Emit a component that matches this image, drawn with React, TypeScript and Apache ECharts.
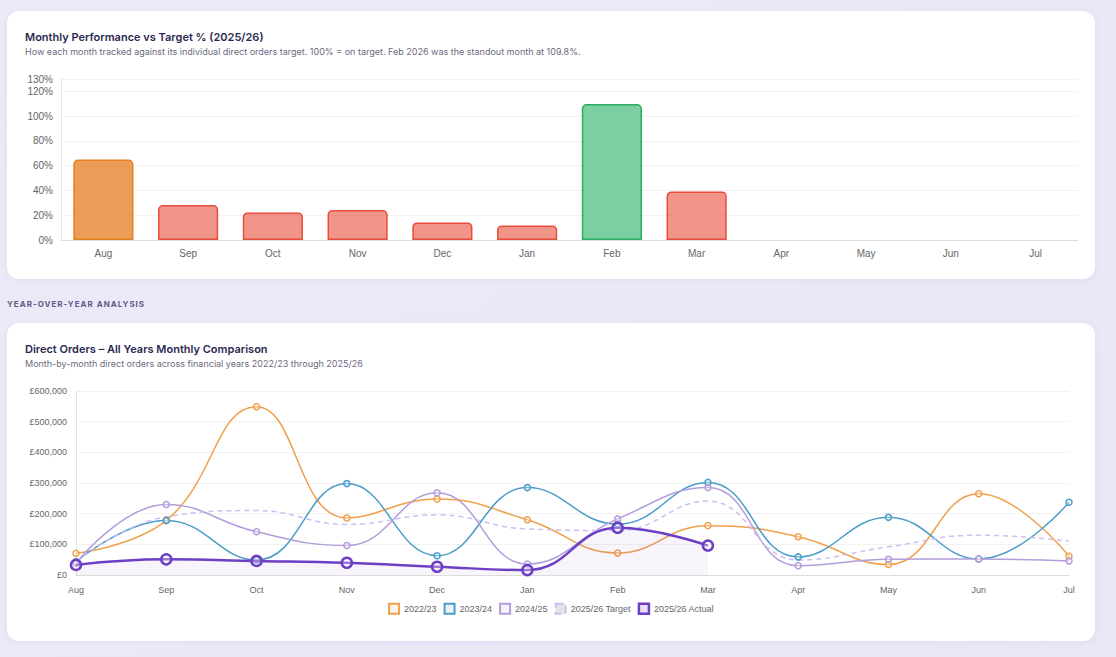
import React, { useEffect, useRef } from "react";
import * as echarts from "echarts";

const months = ["Aug", "Sep", "Oct", "Nov", "Dec", "Jan", "Feb", "Mar", "Apr", "May", "Jun", "Jul"];
const perfPct: (number | null)[] = [65.0, 28.2, 22.3, 24.2, 14.2, 11.8, 109.8, 39.2, null, null, null, null];

const fy2223 = [71000, 178000, 549000, 186000, 248000, 180000, 72000, 161000, 125000, 34000, 265000, 61000];
const fy2324 = [43000, 178000, 49000, 298000, 63000, 285000, 166000, 302000, 59000, 188000, 52000, 237000];
const fy2425 = [38000, 230000, 141000, 96000, 268000, 36000, 183000, 285000, 30000, 51000, 52000, 46000];
const target2526 = [45000, 190000, 210000, 165000, 196000, 150000, 145000, 241000, 49000, 92000, 130000, 110000];
const actual2526: (number | null)[] = [33000, 51000, 46000, 40000, 27000, 16000, 154000, 96000, null, null, null, null];

const seriesNames = ["2022/23", "2023/24", "2024/25", "2025/26 Target", "2025/26 Actual"];

const AXIS_FONT = "'Liberation Sans', Arial, Helvetica, sans-serif";
const TITLE_FONT = "Inter, 'Noto Sans', sans-serif";

function barStyle(v: number | null) {
  if (v == null) return {};
  if (v >= 100) return { color: "rgba(39,174,96,0.6)", borderColor: "#27ae60" };
  if (v >= 50) return { color: "rgba(230,126,34,0.75)", borderColor: "#e67e22" };
  return { color: "rgba(231,76,60,0.6)", borderColor: "#e74c3c" };
}

function PerfChart() {
  const ref = useRef<HTMLDivElement>(null);
  useEffect(() => {
    const chart = echarts.init(ref.current!, undefined, { renderer: "svg" });
    chart.setOption({
      animation: false,
      grid: { left: 54, right: 17, top: 68, bottom: 39, containLabel: false },
      xAxis: {
        type: "category",
        data: months,
        axisLine: { show: true, lineStyle: { color: "#dcdcdc" } },
        axisTick: { show: false },
        axisLabel: { color: "#666", fontSize: 10, fontFamily: AXIS_FONT, margin: 8 },
      },
      yAxis: {
        type: "value",
        min: 0,
        max: 130,
        interval: 20,
        axisLine: { show: true, lineStyle: { color: "#e4e4e4" } },
        axisTick: { show: false },
        axisLabel: { color: "#666", fontSize: 10, fontFamily: AXIS_FONT, margin: 8, formatter: (v: number) => v + "%" },
        splitLine: { lineStyle: { color: "#f2f2f2" } },
      },
      series: [
        {
          type: "bar",
          barCategoryGap: "29%",
          data: perfPct.map((v) => ({
            value: v,
            itemStyle: { ...barStyle(v), borderWidth: 1.5, borderRadius: [4, 4, 0, 0] },
          })),
        },
      ],
    });
    return () => chart.dispose();
  }, []);
  return <div ref={ref} style={{ position: "absolute", left: 0, top: 0, width: 1088, height: 268 }} />;
}

function YoyChart() {
  const ref = useRef<HTMLDivElement>(null);
  useEffect(() => {
    const chart = echarts.init(ref.current!, undefined, { renderer: "svg" });
    const colors = ["#f0a04b", "#4a9cc9", "#b39ddb", "#cdbdf2", "#6c3fc4"];
    const thin = (i: number, data: (number | null)[]) => ({
      name: seriesNames[i],
      type: "line",
      data,
      smooth: 0.45,
      symbol: "circle",
      symbolSize: 6,
      lineStyle: { color: colors[i], width: 1.5 },
      itemStyle: { color: "rgba(255,255,255,0.3)", borderColor: colors[i], borderWidth: 1.5 },
    });
    chart.setOption({
      animation: false,
      grid: { left: 69, right: 26, top: 68, bottom: 66, containLabel: false },
      legend: {
        bottom: 21,
        left: "center",
        itemWidth: 10,
        itemHeight: 10,
        itemGap: 7,
        textStyle: { color: "#666", fontSize: 9, fontFamily: AXIS_FONT },
        data: [
          { name: seriesNames[0], icon: "rect", itemStyle: { color: "rgba(240,160,75,0.12)", borderColor: colors[0], borderWidth: 2 } },
          { name: seriesNames[1], icon: "rect", itemStyle: { color: "rgba(74,156,201,0.12)", borderColor: colors[1], borderWidth: 2 } },
          { name: seriesNames[2], icon: "rect", itemStyle: { color: "rgba(179,157,219,0.12)", borderColor: colors[2], borderWidth: 2 } },
          { name: seriesNames[3], icon: "rect", itemStyle: { color: "rgba(200,200,210,0.5)", borderColor: colors[3], borderWidth: 2, borderType: "dashed" } },
          { name: seriesNames[4], icon: "rect", itemStyle: { color: "rgba(108,63,196,0.15)", borderColor: colors[4], borderWidth: 2.5 } },
        ],
      },
      xAxis: {
        type: "category",
        data: months,
        boundaryGap: false,
        axisLine: { show: true, lineStyle: { color: "#dcdcdc" } },
        axisTick: { show: false },
        axisLabel: { color: "#666", fontSize: 9, fontFamily: AXIS_FONT, margin: 10 },
      },
      yAxis: {
        type: "value",
        min: 0,
        max: 600000,
        interval: 100000,
        axisLine: { show: true, lineStyle: { color: "#e4e4e4" } },
        axisTick: { show: false },
        axisLabel: {
          color: "#666",
          fontSize: 9,
          fontFamily: AXIS_FONT,
          margin: 9,
          formatter: (v: number) => "£" + v.toLocaleString("en-GB"),
        },
        splitLine: { lineStyle: { color: "#f2f2f2" } },
      },
      series: [
        thin(0, fy2223),
        thin(1, fy2324),
        thin(2, fy2425),
        {
          name: seriesNames[3],
          type: "line",
          data: target2526,
          smooth: 0.45,
          symbol: "none",
          lineStyle: { color: colors[3], width: 1.5, type: [5, 4] },
          itemStyle: { color: colors[3] },
        },
        {
          name: seriesNames[4],
          type: "line",
          data: actual2526,
          smooth: 0.45,
          symbol: "circle",
          symbolSize: 10,
          z: 5,
          lineStyle: { color: colors[4], width: 2.5 },
          itemStyle: { color: "rgba(255,255,255,0.3)", borderColor: colors[4], borderWidth: 2.5 },
          areaStyle: { color: "rgba(108,63,196,0.08)" },
        },
      ],
    });
    return () => chart.dispose();
  }, []);
  return <div ref={ref} style={{ position: "absolute", left: 0, top: 0, width: 1088, height: 318 }} />;
}

const cardStyle: React.CSSProperties = {
  position: "absolute",
  left: 7,
  width: 1088,
  background: "#ffffff",
  borderRadius: 12,
  boxShadow: "0 1px 6px rgba(120,100,200,0.08)",
  overflow: "hidden",
};

const titleStyle: React.CSSProperties = {
  position: "absolute",
  left: 18,
  fontFamily: TITLE_FONT,
  fontWeight: 600,
  fontSize: 11,
  color: "#2a2850",
  zIndex: 2,
  whiteSpace: "nowrap",
};

const subStyle: React.CSSProperties = {
  position: "absolute",
  left: 18,
  fontFamily: TITLE_FONT,
  fontSize: 9,
  color: "#6b6a80",
  zIndex: 2,
  whiteSpace: "nowrap",
};

export default function App() {
  return (
    <div
      style={{
        position: "fixed",
        left: 0,
        top: 0,
        width: 1116,
        height: 657,
        background: "linear-gradient(135deg, #ece9f8 0%, #e9e6f6 100%)",
        overflow: "hidden",
      }}
    >
      <div style={{ ...cardStyle, top: 11, height: 268 }}>
        <PerfChart />
        <div style={{ ...titleStyle, top: 19 }}>Monthly Performance vs Target % (2025/26)</div>
        <div style={{ ...subStyle, top: 35 }}>
          How each month tracked against its individual direct orders target. 100% = on target. Feb 2026 was the standout month at 109.8%.
        </div>
      </div>
      <div
        style={{
          position: "absolute",
          left: 7,
          top: 299,
          fontFamily: TITLE_FONT,
          fontWeight: 700,
          fontSize: 8,
          letterSpacing: 1,
          color: "#5d5b85",
          whiteSpace: "nowrap",
        }}
      >
        YEAR-OVER-YEAR ANALYSIS
      </div>
      <div style={{ ...cardStyle, top: 323, height: 318 }}>
        <YoyChart />
        <div style={{ ...titleStyle, top: 19 }}>Direct Orders – All Years Monthly Comparison</div>
        <div style={{ ...subStyle, top: 35 }}>Month-by-month direct orders across financial years 2022/23 through 2025/26</div>
      </div>
    </div>
  );
}
